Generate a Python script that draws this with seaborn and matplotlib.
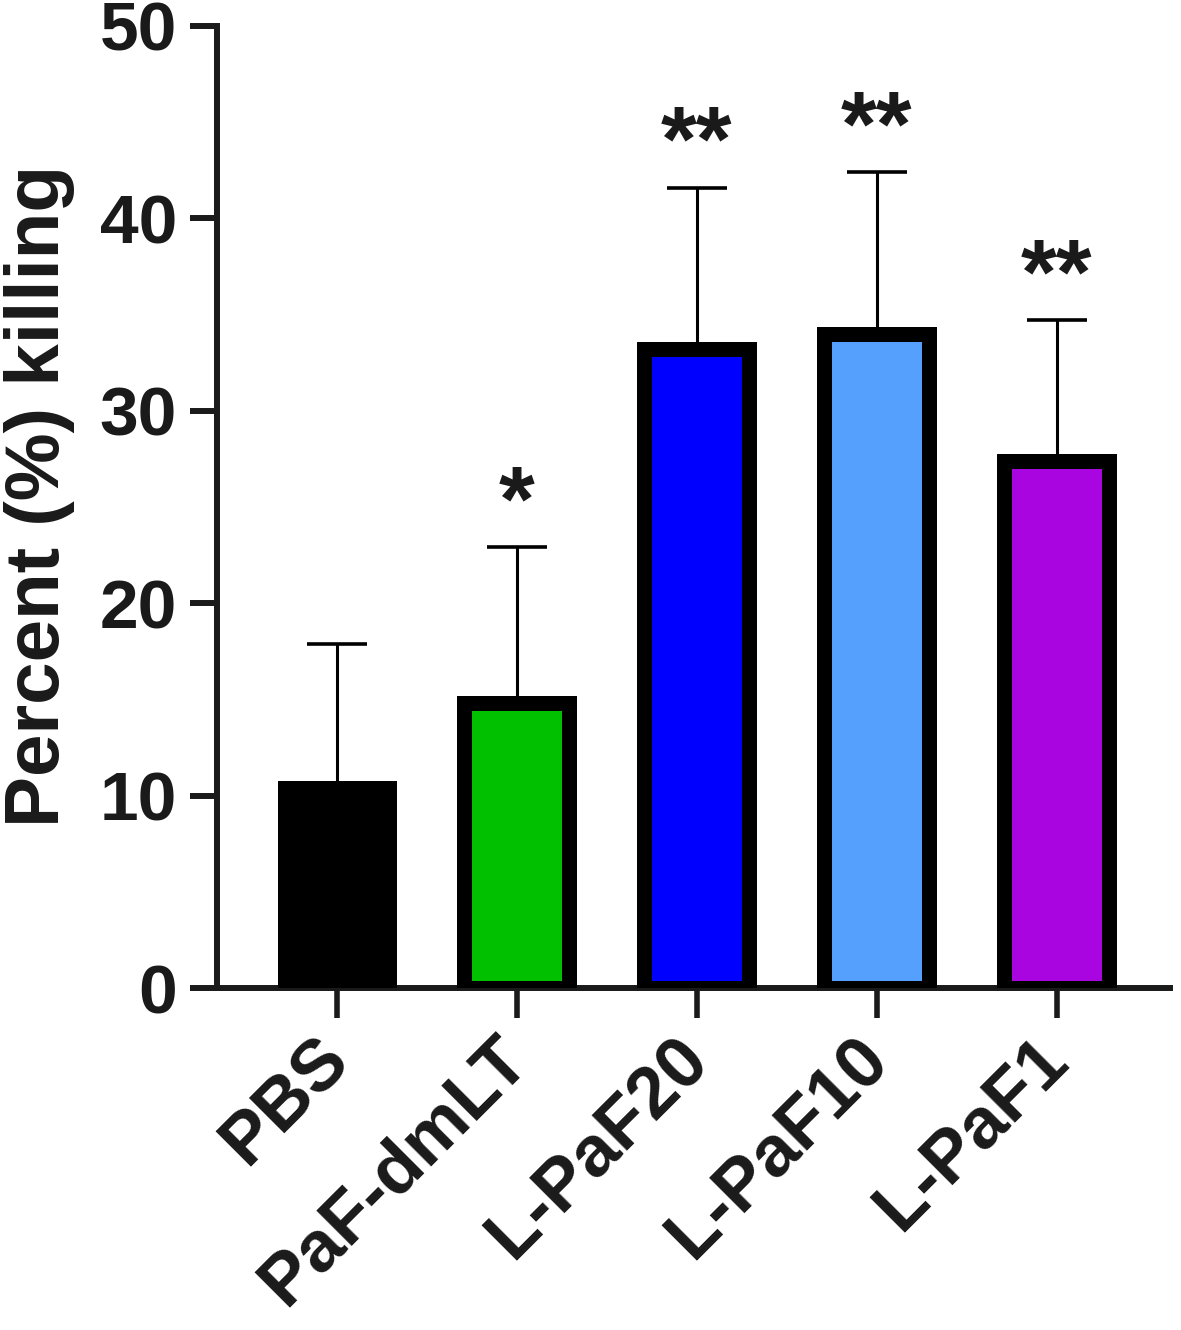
import numpy as np
import pandas as pd
import matplotlib
matplotlib.use("Agg")
import matplotlib.pyplot as plt
import seaborn as sns

# DATA
groups=["PBS","PaF-dmLT","L-PaF20","L-PaF10","L-PaF1"]
mean_kill=[10.4,14.8,33.2,34.0,27.4]
sd_kill=[7.5,8.1,8.4,8.4,7.3]
stars=["","*","**","**","**"]
colors=["#000000","#00C000","#0000FF","#55A0FD","#A905E0"]
yticks=[0,10,20,30,40,50]

df=pd.DataFrame({"group":groups,"kill":mean_kill})

# STYLE
sns.set_style("ticks")
plt.rcParams["font.family"]=["Liberation Sans","DejaVu Sans"]
plt.rcParams["font.weight"]="bold"
ink="#1a1a1a"

fig=plt.figure(figsize=(11.81,13.30),dpi=100)
ax=fig.add_axes([0.1837,0.2571,0.807,0.7234])

# BARS
sns.barplot(data=df,x="group",y="kill",hue="group",palette=colors,legend=False,saturation=1,
            width=0.583,edgecolor="black",linewidth=10.8,errorbar=None,ax=ax,zorder=3)

# ERROR BARS (upper only)
ax.errorbar(np.arange(len(groups)),mean_kill,yerr=[np.zeros(len(groups)),sd_kill],
            fmt="none",ecolor="black",elinewidth=2.2,capsize=21.6,capthick=2.6,zorder=1)

# SIGNIFICANCE
for i,(m,s,st) in enumerate(zip(mean_kill,sd_kill,stars)):
    if st:
        ax.annotate(st,xy=(i,m+s),xytext=(0,12),textcoords="offset points",
                    ha="center",va="baseline",fontsize=66,fontweight="bold",color=ink)

# AXES
ax.set_xlim(-0.667,4.63)
ax.set_ylim(0,50)
ax.set_yticks(yticks)
ax.set_xlabel("")
ax.set_ylabel("Percent (%) killing",fontsize=55,fontweight="bold",color=ink)
ax.yaxis.set_label_coords(-0.149,0.511)
sns.despine(ax=ax)
for sp in ["left","bottom"]:
    ax.spines[sp].set_linewidth(4.3)
    ax.spines[sp].set_color(ink)
ax.tick_params(axis="y",length=19.4,width=4.3,pad=9.4,labelsize=50,color=ink,labelcolor=ink)
ax.tick_params(axis="x",length=21.6,width=4.0,pad=22,labelsize=52,color=ink,labelcolor=ink)
plt.setp(ax.get_xticklabels(),rotation=45,ha="right",va="center",rotation_mode="anchor")

fig.savefig("out.png",dpi=100)
plt.close()
